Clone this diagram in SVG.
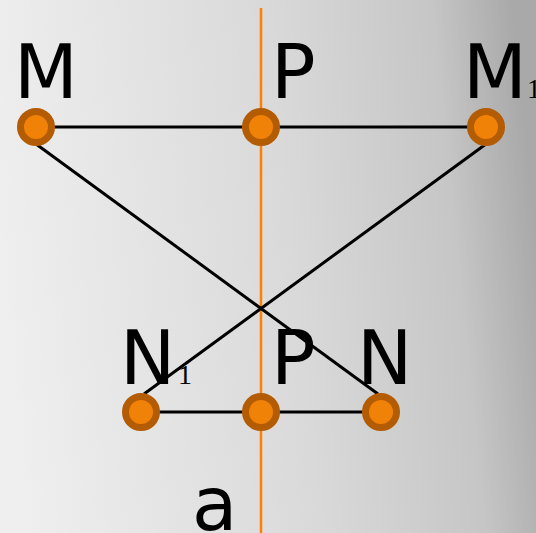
<svg xmlns="http://www.w3.org/2000/svg" width="536" height="533" viewBox="0 0 536 533">
<defs>
<linearGradient id="bg" x1="0" y1="0.55" x2="1" y2="0.45">
<stop offset="0" stop-color="#efefef"/>
<stop offset="0.55" stop-color="#d9d9d9"/>
<stop offset="0.85" stop-color="#c6c6c6"/>
<stop offset="1" stop-color="#a9a9a9"/>
</linearGradient>
<style>
.lbl{font-family:"DejaVu Sans",sans-serif;font-size:74px;fill:#000}
.sub{font-family:"Liberation Serif",serif;font-size:28px;fill:#000}
.edge{stroke:#000;stroke-width:3;fill:none}
.axis{stroke:#ff8000;stroke-width:2.5}
.pt{fill:#f08208;stroke:#b35c04;stroke-width:7}
</style>
</defs>
<rect width="536" height="533" fill="url(#bg)"/>
<g id="connectors">
<line class="axis" x1="261" y1="8" x2="261" y2="533"/>
<line class="edge" x1="36" y1="127" x2="486" y2="127"/>
<line class="edge" x1="141" y1="412" x2="381" y2="412"/>
<line class="edge" x1="36" y1="144" x2="378" y2="394"/>
<line class="edge" x1="486" y1="144" x2="144" y2="394"/>
</g>
<g id="M"><circle class="pt" cx="36" cy="127" r="15.5"/><text class="lbl" x="14" y="98">M</text></g>
<g id="P-top"><circle class="pt" cx="261" cy="127" r="15.5"/><text class="lbl" x="271" y="98">P</text></g>
<g id="M1"><circle class="pt" cx="486" cy="127" r="15.5"/><text class="lbl" x="463" y="98">M</text><text class="sub" x="527" y="98">1</text></g>
<g id="N1"><circle class="pt" cx="141" cy="412" r="15.5"/><text class="lbl" x="120" y="384">N</text><text class="sub" x="178" y="384">1</text></g>
<g id="P-bottom"><circle class="pt" cx="261" cy="412" r="15.5"/><text class="lbl" x="271" y="384">P</text></g>
<g id="N"><circle class="pt" cx="381" cy="412" r="15.5"/><text class="lbl" x="357" y="384">N</text></g>
<g id="a"><text class="lbl" x="192" y="530">a</text></g>
</svg>
